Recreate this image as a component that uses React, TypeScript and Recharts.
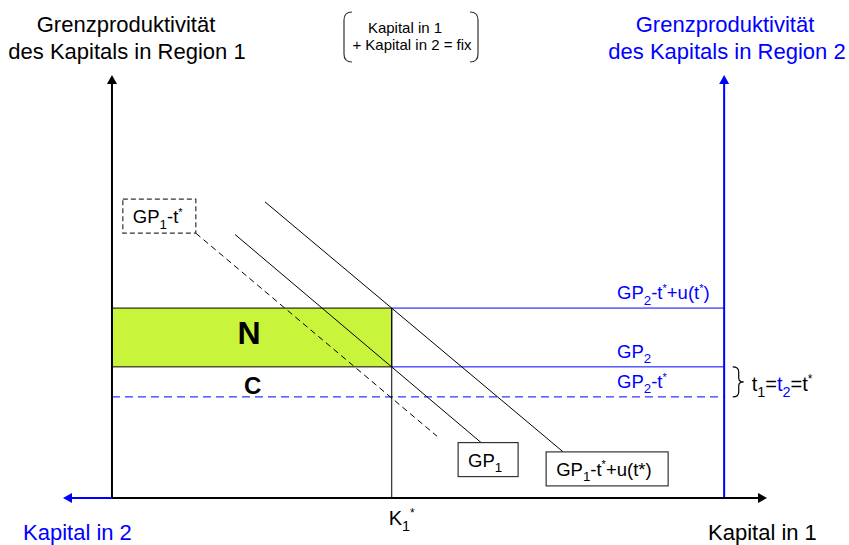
import React from 'react';
import { ComposedChart, XAxis, YAxis, Line, ReferenceLine, ReferenceArea, ReferenceDot } from 'recharts';

const FONT = "'Liberation Sans', Arial, Helvetica, sans-serif";
const BLUE = '#0000ff';

// x = capital in region 1 (0 = left axis, 100 = right axis, total capital fixed)
// y = marginal productivity of capital
const xDomain = [-8, 107];
const yDomain = [0, 100];
const totalCapital = [0, 100];
const kStar = 45.7;

// horizontal GP2 levels (seen from region 2)
const gp2Names = ['GP2-t*+u(t*)', 'GP2', 'GP2-t*'];
const gp2Values = [44.9, 31.0, 23.9];

// downward sloping GP1 curves: start and end points
const gp1Names = ['GP1', 'GP1-t*+u(t*)', 'GP1-t*'];
const gp1Start = [
  { x: 20.1, y: 62.3 },
  { x: 25.0, y: 70.0 },
  { x: 13.7, y: 62.6 },
];
const gp1End = [
  { x: 60.3, y: 13.1 },
  { x: 73.7, y: 10.9 },
  { x: 53.1, y: 14.6 },
];

// area labels
const areaNames = ['N', 'C'];
const areaCenters = [
  { x: 22.4, y: 39.0 },
  { x: 23.0, y: 26.7 },
];

type Part = { t: string; sub?: boolean; sup?: boolean; color?: string };

// builds tspans with sub/superscripts
const Rich = ({ parts, size }: { parts: Part[]; size: number }) => {
  let shift = 0;
  return (
    <>
      {parts.map((p, i) => {
        const target = p.sub ? size * 0.3 : p.sup ? -size * 0.4 : 0;
        const dy = target - shift;
        shift = target;
        return (
          <tspan key={i} dy={dy} fontSize={p.sub ? size * 0.72 : p.sup ? size * 0.6 : size} fill={p.color}>
            {p.t}
          </tspan>
        );
      })}
    </>
  );
};

const gp2Parts: Part[][] = [
  [{ t: 'GP' }, { t: '2', sub: true }, { t: '-t' }, { t: '*', sup: true }, { t: '+u(t' }, { t: '*', sup: true }, { t: ')' }],
  [{ t: 'GP' }, { t: '2', sub: true }],
  [{ t: 'GP' }, { t: '2', sub: true }, { t: '-t' }, { t: '*', sup: true }],
];

const gp1Parts: Part[][] = [
  [{ t: 'GP' }, { t: '1', sub: true }],
  [{ t: 'GP' }, { t: '1', sub: true }, { t: '-t' }, { t: '*', sup: true }, { t: '+u(t*)' }],
  [{ t: 'GP' }, { t: '1', sub: true }, { t: '-t' }, { t: '*', sup: true }],
];

// box placement relative to the curve end the label is attached to
const gp1Boxes = [
  { dx: -23, dy: 0, w: 60, h: 34, dash: undefined },
  { dx: -17, dy: 0, w: 122, h: 34, dash: undefined },
  { dx: -73, dy: -34, w: 73, h: 34, dash: '5 3' },
];

const arrow = (dir: 'up' | 'right' | 'left', color: string) => (props: any) => {
  const { cx, cy } = props;
  let pts = '';
  if (dir === 'up') pts = `${cx - 5},${cy + 9} ${cx + 5},${cy + 9} ${cx},${cy}`;
  if (dir === 'right') pts = `${cx - 9},${cy - 5} ${cx - 9},${cy + 5} ${cx},${cy}`;
  if (dir === 'left') pts = `${cx + 9},${cy - 5} ${cx + 9},${cy + 5} ${cx},${cy}`;
  return <polygon points={pts} fill={color} />;
};

const Brace = (props: any) => {
  const { x1, y1, y2 } = props;
  const x = x1;
  const ym = (y1 + y2) / 2;
  const d = `M ${x} ${y1} Q ${x + 6} ${y1} ${x + 6} ${y1 + 5} L ${x + 6} ${ym - 4} Q ${x + 6} ${ym} ${x + 11} ${ym} Q ${x + 6} ${ym} ${x + 6} ${ym + 4} L ${x + 6} ${y2 - 5} Q ${x + 6} ${y2} ${x} ${y2}`;
  return (
    <g>
      <path d={d} fill="none" stroke="#000" strokeWidth={1.2} />
      <text x={x + 19} y={ym + 9} fontFamily={FONT} fill="#000">
        <Rich
          size={20}
          parts={[
            { t: 't' },
            { t: '1', sub: true },
            { t: '=' },
            { t: 't', color: BLUE },
            { t: '2', sub: true, color: BLUE },
            { t: '=t' },
            { t: '*', sup: true },
          ]}
        />
      </text>
    </g>
  );
};

export default function App() {
  return (
    <div style={{ position: 'absolute', left: 0, top: 0, width: 849, height: 545, background: '#fff' }}>
      <ComposedChart width={849} height={545} margin={{ top: 75, right: 82, bottom: 47, left: 63 }}>
        <XAxis type="number" dataKey="x" domain={xDomain} hide allowDataOverflow />
        <YAxis type="number" dataKey="y" domain={yDomain} hide allowDataOverflow />

        <ReferenceArea
          x1={0}
          x2={kStar}
          y1={gp2Values[1]}
          y2={gp2Values[0]}
          fill="#c8f53c"
          fillOpacity={1}
          stroke="#000"
          strokeWidth={1}
          ifOverflow="visible"
        />

        {/* GP2 levels */}
        <ReferenceLine segment={[{ x: kStar, y: gp2Values[0] }, { x: totalCapital[1], y: gp2Values[0] }]} stroke={BLUE} strokeWidth={1} ifOverflow="visible" />
        <ReferenceLine segment={[{ x: kStar, y: gp2Values[1] }, { x: totalCapital[1], y: gp2Values[1] }]} stroke={BLUE} strokeWidth={1} ifOverflow="visible" />
        <ReferenceLine segment={[{ x: 0, y: gp2Values[2] }, { x: totalCapital[1], y: gp2Values[2] }]} stroke={BLUE} strokeWidth={1} strokeDasharray="8 5" ifOverflow="visible" />
        <ReferenceLine segment={[{ x: kStar, y: 0 }, { x: kStar, y: gp2Values[0] }]} stroke="#000" strokeWidth={1} ifOverflow="visible" />

        {gp2Names.map((name, i) => (
          <ReferenceDot
            key={name}
            x={82.5}
            y={gp2Values[i]}
            r={0}
            ifOverflow="visible"
            shape={(p: any) => (
              <text x={p.cx} y={p.cy - 9} fontFamily={FONT} fill={BLUE}>
                <Rich size={18.5} parts={gp2Parts[i]} />
              </text>
            )}
          />
        ))}

        {/* GP1 curves */}
        {gp1Names.map((name, i) => (
          <Line
            key={name}
            data={[gp1Start[i], gp1End[i]]}
            dataKey="y"
            stroke="#000"
            strokeWidth={1}
            strokeDasharray={i === 2 ? '6 4' : undefined}
            dot={false}
            isAnimationActive={false}
          />
        ))}
        {gp1Names.map((name, i) => {
          const anchor = i === 2 ? gp1Start[i] : gp1End[i];
          const b = gp1Boxes[i];
          return (
            <ReferenceDot
              key={'box' + name}
              x={anchor.x}
              y={anchor.y}
              r={0}
              ifOverflow="visible"
              shape={(p: any) => (
                <g>
                  <rect
                    x={p.cx + b.dx}
                    y={p.cy + b.dy}
                    width={b.w}
                    height={b.h}
                    fill="#fff"
                    stroke="#333"
                    strokeWidth={1.2}
                    strokeDasharray={b.dash}
                  />
                  <text x={p.cx + b.dx + 10} y={p.cy + b.dy + 24} fontFamily={FONT} fill="#000">
                    <Rich size={18.5} parts={gp1Parts[i]} />
                  </text>
                </g>
              )}
            />
          );
        })}

        {areaNames.map((name, i) => (
          <ReferenceDot
            key={name}
            x={areaCenters[i].x}
            y={areaCenters[i].y}
            r={0}
            ifOverflow="visible"
            shape={(p: any) => (
              <text
                x={p.cx}
                y={p.cy}
                textAnchor="middle"
                dominantBaseline="central"
                fontFamily={FONT}
                fontWeight="bold"
                fontSize={i === 0 ? 32 : 24}
                fill="#000"
              >
                {name}
              </text>
            )}
          />
        ))}

        {/* tax brace */}
        <ReferenceLine
          segment={[{ x: 101.4, y: gp2Values[1] }, { x: 101.4, y: gp2Values[2] }]}
          ifOverflow="visible"
          shape={Brace}
        />

        {/* axes */}
        <ReferenceLine segment={[{ x: 0, y: 0 }, { x: 0, y: 98 }]} stroke="#000" strokeWidth={2} ifOverflow="visible" />
        <ReferenceLine segment={[{ x: totalCapital[1], y: 0 }, { x: totalCapital[1], y: 98 }]} stroke={BLUE} strokeWidth={2} ifOverflow="visible" />
        <ReferenceLine segment={[{ x: 0, y: 0 }, { x: 106, y: 0 }]} stroke="#000" strokeWidth={2} ifOverflow="visible" />
        <ReferenceLine segment={[{ x: -7, y: 0 }, { x: 0, y: 0 }]} stroke={BLUE} strokeWidth={2} ifOverflow="visible" />
        <ReferenceDot x={0} y={100} r={0} ifOverflow="visible" shape={arrow('up', '#000')} />
        <ReferenceDot x={totalCapital[1]} y={100} r={0} ifOverflow="visible" shape={arrow('up', BLUE)} />
        <ReferenceDot x={107} y={0} r={0} ifOverflow="visible" shape={arrow('right', '#000')} />
        <ReferenceDot x={-8} y={0} r={0} ifOverflow="visible" shape={arrow('left', BLUE)} />

        <ReferenceDot
          x={kStar}
          y={0}
          r={0}
          ifOverflow="visible"
          shape={(p: any) => (
            <text x={p.cx - 3} y={p.cy + 27} fontFamily={FONT} fill="#000">
              <Rich size={20} parts={[{ t: 'K' }, { t: '1', sub: true }, { t: '*', sup: true }]} />
            </text>
          )}
        />
      </ComposedChart>

      <svg
        width={849}
        height={545}
        style={{ position: 'absolute', left: 0, top: 0, pointerEvents: 'none' }}
        fontFamily={FONT}
      >
        <text x={126} y={32} textAnchor="middle" fontSize={22} fill="#000">Grenzproduktivität</text>
        <text x={127} y={59} textAnchor="middle" fontSize={22} fill="#000">des Kapitals in Region 1</text>
        <text x={725} y={32} textAnchor="middle" fontSize={22} fill={BLUE}>Grenzproduktivität</text>
        <text x={727} y={59} textAnchor="middle" fontSize={22} fill={BLUE}>des Kapitals in Region 2</text>

        <path d="M 352 12 Q 344 12 344 20 L 344 54 Q 344 62 352 62" fill="none" stroke="#333" strokeWidth={1.2} />
        <path d="M 470 12 Q 478 12 478 20 L 478 54 Q 478 62 470 62" fill="none" stroke="#333" strokeWidth={1.2} />
        <text x={405} y={33} textAnchor="middle" fontSize={15} fill="#000">Kapital in 1</text>
        <text x={412} y={50} textAnchor="middle" fontSize={15} fill="#000">+ Kapital in 2 = fix</text>

        <text x={23} y={540} fontSize={22} fill={BLUE}>Kapital in 2</text>
        <text x={708} y={540} fontSize={22} fill="#000">Kapital in 1</text>
      </svg>
    </div>
  );
}
